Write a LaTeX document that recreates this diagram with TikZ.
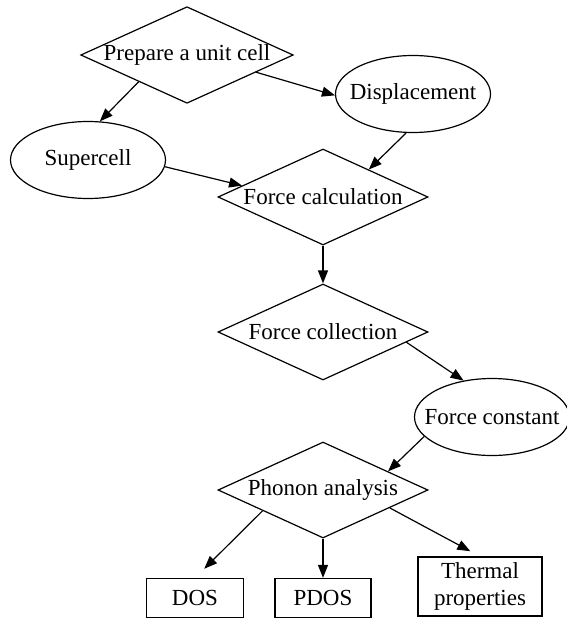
\documentclass[tikz,border=0pt]{standalone}
\usepackage{fontspec}
\setmainfont{Liberation Serif}
\usepackage{tikz}
\usetikzlibrary{shapes.geometric,arrows.meta}

\tikzset{
    decision/.style={diamond, draw, aspect=2.2, inner sep=0pt, minimum width=210pt, minimum height=96pt},
    state/.style={ellipse, draw, inner xsep=-20pt, inner ysep=0pt, minimum width=155pt, minimum height=77pt},
    result/.style={rectangle, draw, align=center, minimum height=39pt}
}

\begin{document}
\begin{tikzpicture}[x=1pt, y=-1pt, line width=1.2pt, >={Triangle[length=13pt,width=10pt]},
    font=\fontsize{23}{27}\selectfont]
    \useasboundingbox (0,0) rectangle (567,621);
    % Input
    \node[decision] (Input-1) at (187,55) {Prepare a unit cell};
    % Setup
    \foreach \name/\x/\y/\i in {Supercell/88/160/1,Displacement/413/94/2} {
        \node[state] (Setup-\i) at (\x,\y) {\name};
    }
    % Forces
    \foreach \name/\y/\i in {Force calculation/197/1,Force collection/332/2} {
        \node[decision] (Force-\i) at (323,\y) {\name};
    }
    \node[state] (Force-3) at (492,417) {Force constant};
    % Phonon
    \node[decision] (Phonon-1) at (323,490) {Phonon analysis};
    % Output Layer
    \foreach \name/\x/\w/\i in {DOS/195/97/1,PDOS/323/96/2} {
        \node[result, minimum width=\w pt] (Output-\i) at (\x,598) {\name};
    }
    \node[result, minimum width=124pt, minimum height=59pt] (Output-3) at (480,586.5) {Thermal\\properties};
    % Arrows
    \draw[->] (Input-1.209) -- (Setup-1.73);
    \draw[->] (Input-1.-14) -- (Setup-2.181);
    \draw[->] (Setup-1.-5) -- (Force-1.172);
    \draw[->] (Setup-2.260) -- (Force-1.31);
    \draw[->] (Force-1.south) -- (Force-2.north);
    \draw[->] (Force-2.-7) -- (Force-3.128);
    \draw[->] (Force-3.196) -- (Phonon-1.16);
    \draw[->, shorten >=13pt] (Phonon-1.199) -- (Output-1.north);
    \draw[->] (Phonon-1.south) -- (Output-2.north);
    \draw[->, shorten >=11pt] (Phonon-1.-15) -- (Output-3.north);
\end{tikzpicture}
\end{document}
